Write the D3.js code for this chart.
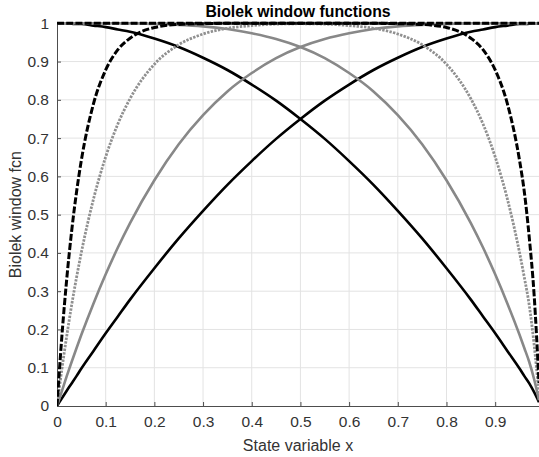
<!DOCTYPE html>
<html>
<head>
<meta charset="utf-8">
<script src="https://cdn.jsdelivr.net/npm/d3@7"></script>
<style>
  html, body { margin: 0; padding: 0; background: #fff; }
  svg { display: block; font-family: "Liberation Sans", Arial, sans-serif; }
</style>
</head>
<body>
<svg id="chart" width="539" height="457"></svg>
<script>
// Sample positions of the state variable x
const xs = [0, 0.01, 0.02, 0.03, 0.04, 0.05, 0.075, 0.1, 0.125, 0.15, 0.2, 0.25, 0.3, 0.35, 0.4, 0.45, 0.5,
            0.55, 0.6, 0.65, 0.7, 0.75, 0.8, 0.85, 0.875, 0.9, 0.925, 0.95, 0.96, 0.97, 0.98, 0.99];

// p = 1 (black solid)
const p1Rise = [0, 0.020, 0.040, 0.059, 0.078, 0.098, 0.144, 0.190, 0.234, 0.278, 0.360, 0.438, 0.510, 0.578, 0.640, 0.698, 0.750,
                0.798, 0.840, 0.878, 0.910, 0.938, 0.960, 0.978, 0.984, 0.990, 0.994, 0.998, 0.998, 0.999, 1.000, 1.000];
const p1Fall = [1.000, 1.000, 1.000, 0.999, 0.998, 0.998, 0.994, 0.990, 0.984, 0.978, 0.960, 0.938, 0.910, 0.878, 0.840, 0.798, 0.750,
                0.698, 0.640, 0.578, 0.510, 0.438, 0.360, 0.278, 0.234, 0.190, 0.144, 0.098, 0.078, 0.059, 0.036, 0.010];
// p = 2 (grey solid)
const p2Rise = [0, 0.039, 0.078, 0.115, 0.151, 0.186, 0.268, 0.344, 0.414, 0.478, 0.590, 0.684, 0.760, 0.822, 0.870, 0.909, 0.938,
                0.959, 0.974, 0.985, 0.992, 0.996, 0.998, 1.000, 1.000, 1.000, 1.000, 1.000, 1.000, 1.000, 1.000, 1.000];
const p2Fall = [1.000, 1.000, 1.000, 1.000, 1.000, 1.000, 1.000, 1.000, 1.000, 1.000, 0.998, 0.996, 0.992, 0.985, 0.974, 0.959, 0.938,
                0.909, 0.870, 0.822, 0.760, 0.684, 0.590, 0.478, 0.414, 0.344, 0.268, 0.186, 0.151, 0.115, 0.070, 0.015];
// p = 5 (grey dotted)
const p5Rise = [0, 0.096, 0.183, 0.263, 0.335, 0.401, 0.541, 0.651, 0.737, 0.803, 0.893, 0.944, 0.972, 0.987, 0.994, 0.998, 0.999,
                1.000, 1.000, 1.000, 1.000, 1.000, 1.000, 1.000, 1.000, 1.000, 1.000, 1.000, 1.000, 1.000, 1.000, 1.000];
const p5Fall = [1.000, 1.000, 1.000, 1.000, 1.000, 1.000, 1.000, 1.000, 1.000, 1.000, 1.000, 1.000, 1.000, 1.000, 1.000, 1.000, 0.999,
                0.998, 0.994, 0.987, 0.972, 0.944, 0.893, 0.803, 0.737, 0.651, 0.541, 0.401, 0.335, 0.263, 0.160, 0.030];
// p = 10 (black dashed)
const p10Rise = [0, 0.182, 0.332, 0.456, 0.558, 0.642, 0.790, 0.878, 0.931, 0.961, 0.989, 0.997, 0.999, 1.000, 1.000, 1.000, 1.000,
                 1.000, 1.000, 1.000, 1.000, 1.000, 1.000, 1.000, 1.000, 1.000, 1.000, 1.000, 1.000, 1.000, 1.000, 1.000];
const p10Fall = [1.000, 1.000, 1.000, 1.000, 1.000, 1.000, 1.000, 1.000, 1.000, 1.000, 1.000, 1.000, 1.000, 1.000, 1.000, 1.000, 1.000,
                 1.000, 1.000, 1.000, 0.999, 0.997, 0.989, 0.961, 0.931, 0.878, 0.790, 0.642, 0.558, 0.440, 0.290, 0.060];

const xTicks = [0, 0.1, 0.2, 0.3, 0.4, 0.5, 0.6, 0.7, 0.8, 0.9];
const yTicks = [0, 0.1, 0.2, 0.3, 0.4, 0.5, 0.6, 0.7, 0.8, 0.9, 1];

const svg = d3.select("#chart");
const plotL = 57, plotR = 539, plotT = 23.3, plotB = 406;

const x = d3.scaleLinear().domain([0, 0.99]).range([plotL, plotR]);
const y = d3.scaleLinear().domain([0, 1]).range([plotB, plotT]);

// grid
const grid = svg.append("g");
grid.selectAll("line.gx").data(xTicks.slice(1)).join("line")
  .attr("x1", d => x(d)).attr("x2", d => x(d)).attr("y1", plotT).attr("y2", plotB)
  .attr("stroke", "#e3e3e3").attr("stroke-width", 1);
grid.selectAll("line.gy").data(yTicks.slice(1)).join("line")
  .attr("y1", d => y(d)).attr("y2", d => y(d)).attr("x1", plotL).attr("x2", plotR)
  .attr("stroke", "#e3e3e3").attr("stroke-width", 1);

// axes
const axisColor = "#4d4d4d";
const gx = svg.append("g").attr("transform", `translate(0,${plotB})`)
  .call(d3.axisBottom(x).tickValues(xTicks).tickFormat(d3.format("")).tickSizeInner(-4).tickSizeOuter(0).tickPadding(10));
const gy = svg.append("g").attr("transform", `translate(${plotL},0)`)
  .call(d3.axisLeft(y).tickValues(yTicks).tickFormat(d3.format("")).tickSizeInner(-4).tickSizeOuter(0).tickPadding(8));
[gx, gy].forEach(g => {
  g.select(".domain").attr("stroke", axisColor).attr("stroke-width", 1);
  g.selectAll(".tick line").attr("stroke", axisColor);
  g.selectAll(".tick text").attr("fill", "#333").attr("font-size", 15.5)
    .attr("font-family", "'Liberation Sans', Arial, sans-serif");
});
// top border of the box
svg.append("line").attr("x1", plotL).attr("x2", plotR).attr("y1", plotT).attr("y2", plotT)
  .attr("stroke", axisColor).attr("stroke-width", 1);

// curves
const line = vals => d3.line().x((d, i) => x(xs[i])).y(d => y(d)).curve(d3.curveMonotoneX)(vals);
const series = [
  { v: p1Fall, color: "#000", w: 2.6, dash: null },
  { v: p1Rise, color: "#000", w: 2.6, dash: null },
  { v: p2Fall, color: "#888", w: 2.6, dash: null },
  { v: p2Rise, color: "#888", w: 2.6, dash: null },
  { v: p5Fall, color: "#909090", w: 2.8, dash: "2.4,1.3" },
  { v: p5Rise, color: "#909090", w: 2.8, dash: "2.4,1.3" },
  { v: p10Fall, color: "#000", w: 3, dash: "7,2.2" },
  { v: p10Rise, color: "#000", w: 3, dash: "7,2.2" }
];
svg.append("clipPath").attr("id", "plotclip").append("rect")
  .attr("x", plotL).attr("y", plotT - 3).attr("width", plotR - plotL).attr("height", plotB - plotT + 3);
svg.append("g").attr("clip-path", "url(#plotclip)")
  .selectAll("path").data(series).join("path")
  .attr("d", s => line(s.v))
  .attr("fill", "none")
  .attr("stroke", s => s.color)
  .attr("stroke-width", s => s.w)
  .attr("stroke-dasharray", s => s.dash)
  .attr("stroke-linejoin", "round");

// title and axis labels
svg.append("text").attr("x", (plotL + plotR) / 2).attr("y", 17)
  .attr("text-anchor", "middle").attr("font-weight", "bold").attr("font-size", 15.8)
  .attr("fill", "#000").text("Biolek window functions");
svg.append("text").attr("x", (plotL + plotR) / 2).attr("y", 451)
  .attr("text-anchor", "middle").attr("font-size", 16).attr("fill", "#333")
  .text("State variable x");
svg.append("text").attr("transform", `translate(21,${(plotT + plotB) / 2}) rotate(-90)`)
  .attr("text-anchor", "middle").attr("font-size", 16).attr("fill", "#333")
  .text("Biolek window fcn");
</script>
</body>
</html>
